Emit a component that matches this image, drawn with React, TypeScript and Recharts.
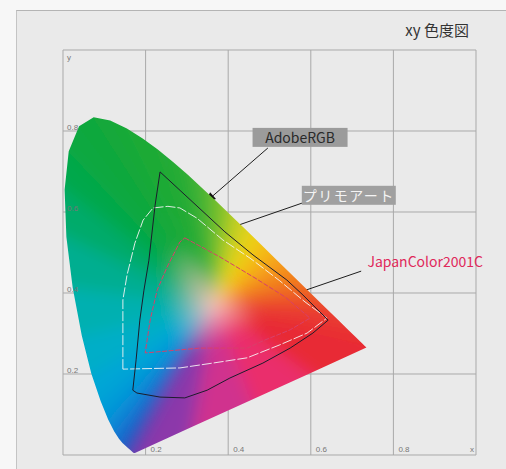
import { CartesianGrid, ReferenceLine, Scatter, ScatterChart, XAxis, YAxis } from "recharts"

// CIE 1931 spectral locus (380–700nm) closed by the purple line back to 380nm
const locusX = [
  0.1741, 0.1733, 0.1726, 0.1714, 0.1689, 0.1644, 0.1566, 0.144, 0.1355, 0.1241, 0.1096, 0.0913, 0.0687,
  0.0454, 0.0235, 0.0082, 0.0039, 0.0139, 0.0389, 0.0743, 0.1142, 0.1547, 0.1929, 0.2296, 0.2658, 0.3016,
  0.3373, 0.3731, 0.4087, 0.4441, 0.4788, 0.5125, 0.5448, 0.5752, 0.6029, 0.627, 0.6658, 0.6915, 0.7079,
  0.719, 0.726, 0.73, 0.7334, 0.7347, 0.5945, 0.4544, 0.3142, 0.1741,
]
const locusY = [
  0.005, 0.0048, 0.0048, 0.0051, 0.0069, 0.0109, 0.0177, 0.0297, 0.0399, 0.0578, 0.0868, 0.1327, 0.2007,
  0.295, 0.4127, 0.5384, 0.6548, 0.7502, 0.812, 0.8338, 0.8262, 0.8059, 0.7816, 0.7543, 0.7243, 0.6923,
  0.6589, 0.6245, 0.5896, 0.5547, 0.5202, 0.4866, 0.4544, 0.4242, 0.3965, 0.3725, 0.334, 0.3083, 0.292,
  0.2809, 0.274, 0.27, 0.2666, 0.2653, 0.2003, 0.1352, 0.0701, 0.005,
]
const locusColors = [
  "#2a2f9e", "#2a33a2", "#2a35a6", "#2838aa", "#2540b0", "#2048b8", "#1c56c2", "#1868cc", "#1476d2",
  "#0c88d6", "#069ad8", "#02a6d6", "#00aec8", "#00b0b0", "#00ae90", "#00ab6a", "#04a84c", "#0aa840",
  "#10a83c", "#14a83a", "#18a938", "#1caa36", "#1eaa36", "#20aa38", "#28ac36", "#38b034", "#58b830",
  "#88c42a", "#c8d020", "#ecd018", "#f5b818", "#f59a1c", "#f2801f", "#ef6824", "#ec5228", "#ea4030",
  "#e83432", "#e83032", "#e82c32", "#e82a32", "#e82a32", "#e82a32", "#e82a32", "#e82a34", "#ea2f6c",
  "#d0308e", "#8c38aa", "#2a2f9e",
]
const whitePoint = { x: 0.365, y: 0.37 }

const adobeX = [
  0.235, 0.392, 0.46, 0.542, 0.581, 0.642, 0.605, 0.55, 0.484, 0.404, 0.349, 0.295, 0.235, 0.179, 0.169,
  0.177, 0.186, 0.196, 0.208, 0.223, 0.235,
]
const adobeY = [
  0.699, 0.551, 0.494, 0.432, 0.395, 0.333, 0.301, 0.264, 0.227, 0.19, 0.16, 0.141, 0.143, 0.153, 0.16,
  0.235, 0.333, 0.407, 0.481, 0.617, 0.699,
]
const primoX = [
  0.145, 0.145, 0.155, 0.174, 0.194, 0.218, 0.254, 0.283, 0.324, 0.387, 0.453, 0.525, 0.586, 0.639, 0.591,
  0.525, 0.446, 0.363, 0.283, 0.145,
]
const primoY = [
  0.212, 0.383, 0.444, 0.523, 0.58, 0.61, 0.614, 0.61, 0.585, 0.531, 0.486, 0.43, 0.378, 0.338, 0.301,
  0.272, 0.24, 0.227, 0.215, 0.212,
]
const japanX = [
  0.295, 0.38, 0.465, 0.538, 0.598, 0.55, 0.489, 0.446, 0.332, 0.199, 0.211, 0.228, 0.252, 0.283, 0.295,
]
const japanY = [
  0.536, 0.489, 0.437, 0.39, 0.338, 0.309, 0.284, 0.264, 0.264, 0.252, 0.333, 0.407, 0.464, 0.526, 0.536,
]

const gridTicks = [0, 0.2, 0.4, 0.6, 0.8, 1]
const xTickValues = [0.2, 0.4, 0.6, 0.8, 1]
const xTickLabels = ["0.2", "0.4", "0.6", "0.8", "x"]
const yTickValues = [0.2, 0.4, 0.6, 0.8, 1]
const yTickLabels = ["0.2", "0.4", "0.6", "0.8", "y"]

const labelNames = ["AdobeRGB", "プリモアート", "JapanColor2001C"]
const labelX = [0.574, 0.692, 0.877]
const labelY = [0.783, 0.64, 0.477]
const arrowFromX = [0.496, 0.579, 0.722]
const arrowFromY = [0.758, 0.622, 0.454]
const arrowToX = [0.345, 0.389, 0.539]
const arrowToY = [0.624, 0.555, 0.39]

// label look
const labelBoxFill = ["#9b9b9b", "#a0a0a0", "none"]
const labelBoxWidth = [95, 94, 0]
const labelTextColor = ["#2a2a2a", "#f4f4f4", "#e0285a"]
const labelSpacing = [0, 1.5, 0]

const zip = (xs: number[], ys: number[]) => xs.map((x, i) => ({ x, y: ys[i] }))
const fillData = [whitePoint, ...zip(locusX, locusY)]
const labelData = labelNames.map((name, i) => ({ x: labelX[i], y: labelY[i], name, i }))
const xTickData = xTickValues.map((x, i) => ({ x, y: 0, label: xTickLabels[i] }))
const yTickData = yTickValues.map((y, i) => ({ x: 0, y, label: yTickLabels[i] }))

const FONT = "'Noto Sans CJK JP', 'Noto Sans', sans-serif"
const TICK_FONT = "'Liberation Sans', sans-serif"
const centerColor = "#f6c4bc"

const renderGamutFill = (props: any) => {
  const pts = props.points as { x: number; y: number }[]
  const w = pts[0]
  const edge = pts.slice(1)
  // push outer vertices outward so the blur doesn't fade the border, clip later
  const out = (p: { x: number; y: number }) => ({ x: w.x + (p.x - w.x) * 1.25, y: w.y + (p.y - w.y) * 1.25 })
  const tris = edge.slice(0, -1).map((p, i) => ({ p, q: edge[i + 1], c: locusColors[i] }))
  const clip = edge.map((p) => `${p.x},${p.y}`).join(" ")
  return (
    <g>
      <defs>
        <clipPath id="locusClip">
          <polygon points={clip} />
        </clipPath>
        <filter id="locusBlur" x="-20%" y="-20%" width="140%" height="140%">
          <feGaussianBlur stdDeviation="8" />
        </filter>
        {tris.map(({ p, q, c }, i) => (
          <linearGradient
            key={i}
            id={`locus${i}`}
            gradientUnits="userSpaceOnUse"
            x1={w.x}
            y1={w.y}
            x2={(p.x + q.x) / 2}
            y2={(p.y + q.y) / 2}
          >
            <stop offset="0" stopColor={centerColor} />
            <stop offset="0.34" stopColor={c} />
            <stop offset="1" stopColor={c} />
          </linearGradient>
        ))}
      </defs>
      <g clipPath="url(#locusClip)">
        <g filter="url(#locusBlur)">
          {tris.map(({ p, q }, i) => {
            const a = out(p)
            const b = out(q)
            return (
              <polygon
                key={i}
                points={`${w.x},${w.y} ${a.x},${a.y} ${b.x},${b.y}`}
                fill={`url(#locus${i})`}
                stroke={`url(#locus${i})`}
                strokeWidth={1}
                strokeLinejoin="round"
              />
            )
          })}
        </g>
      </g>
    </g>
  )
}

const noDot = () => <g />

const LabelShape = (props: any) => {
  const { cx, cy, payload } = props
  const i = payload.i
  const bw = labelBoxWidth[i]
  return (
    <g>
      {bw > 0 && <rect x={cx - bw / 2} y={cy - 10} width={bw} height={19} fill={labelBoxFill[i]} />}
      <text
        x={cx}
        y={cy + 5}
        textAnchor="middle"
        fontSize={14}
        fontFamily={FONT}
        fill={labelTextColor[i]}
        letterSpacing={labelSpacing[i]}
      >
        {payload.name}
      </text>
    </g>
  )
}

const XTickShape = (props: any) => {
  const { cx, cy, payload } = props
  const last = payload.label === "x"
  return (
    <text x={last ? cx - 6 : cx + 5} y={cy - 3} fontSize={8} fill="#777" fontFamily={TICK_FONT}>
      {payload.label}
    </text>
  )
}

const YTickShape = (props: any) => {
  const { cx, cy, payload } = props
  const last = payload.label === "y"
  return (
    <text x={cx + 4} y={last ? cy + 10 : cy - 1} fontSize={8} fill="#777" fontFamily={TICK_FONT}>
      {payload.label}
    </text>
  )
}

const Arrow = (props: any) => {
  const x1 = Number(props.x1)
  const y1 = Number(props.y1)
  const x2 = Number(props.x2)
  const y2 = Number(props.y2)
  const a = Math.atan2(y2 - y1, x2 - x1)
  const len = 10
  const half = 4.5
  const bx = x2 - len * Math.cos(a)
  const by = y2 - len * Math.sin(a)
  const sx = half * Math.sin(a)
  const sy = half * Math.cos(a)
  return (
    <g>
      <line x1={x1} y1={y1} x2={bx} y2={by} stroke="#1e1e1e" strokeWidth={1} />
      <polygon points={`${x2},${y2} ${bx + sx},${by - sy} ${bx - sx},${by + sy}`} fill="#101010" />
    </g>
  )
}

const emptyTick = () => <g />

export default function App() {
  return (
    <div style={{ position: "absolute", left: 0, top: 0, width: 506, height: 469, background: "#f7f7f7", overflow: "hidden" }}>
      <div
        style={{
          position: "absolute",
          left: 16,
          top: 10,
          width: 500,
          height: 470,
          background: "#eaeaea",
          borderLeft: "1px solid #c4c4c4",
          borderTop: "1px solid #b4b4b4",
        }}
      />
      <div
        style={{
          position: "absolute",
          right: 37,
          top: 19,
          fontSize: 15,
          fontFamily: FONT,
          color: "#333",
          whiteSpace: "nowrap",
        }}
      >
        xy 色度図
      </div>
      <div style={{ position: "absolute", left: 0, top: 0 }}>
        <ScatterChart width={506} height={469} margin={{ top: 50, right: 30, bottom: 14, left: 63 }}>
          <CartesianGrid stroke="#a9a9a9" strokeWidth={1} />
          <XAxis
            type="number"
            dataKey="x"
            domain={[0, 1]}
            ticks={gridTicks}
            height={0}
            axisLine={false}
            tickLine={false}
            tick={emptyTick}
          />
          <YAxis
            type="number"
            dataKey="y"
            domain={[0, 1]}
            ticks={gridTicks}
            width={0}
            axisLine={false}
            tickLine={false}
            tick={emptyTick}
          />
          <Scatter data={fillData} shape={noDot} line={renderGamutFill} isAnimationActive={false} />
          <Scatter data={xTickData} shape={XTickShape} isAnimationActive={false} />
          <Scatter data={yTickData} shape={YTickShape} isAnimationActive={false} />
          <Scatter
            data={zip(japanX, japanY)}
            shape={noDot}
            line={{ stroke: "#d8406a", strokeWidth: 1, strokeDasharray: "5 1.5", fill: "none" }}
            isAnimationActive={false}
          />
          <Scatter
            data={zip(primoX, primoY)}
            shape={noDot}
            line={{ stroke: "#f4f4f4", strokeWidth: 1, strokeDasharray: "10 2", strokeOpacity: 0.9, fill: "none" }}
            isAnimationActive={false}
          />
          <Scatter
            data={zip(adobeX, adobeY)}
            shape={noDot}
            line={{ stroke: "#1c1c2c", strokeWidth: 1, fill: "none" }}
            isAnimationActive={false}
          />
          <Scatter data={labelData} shape={LabelShape} isAnimationActive={false} />
          {labelNames.map((n, i) => (
            <ReferenceLine
              key={n}
              segment={[
                { x: arrowFromX[i], y: arrowFromY[i] },
                { x: arrowToX[i], y: arrowToY[i] },
              ]}
              ifOverflow="visible"
              shape={Arrow}
            />
          ))}
        </ScatterChart>
      </div>
    </div>
  )
}
